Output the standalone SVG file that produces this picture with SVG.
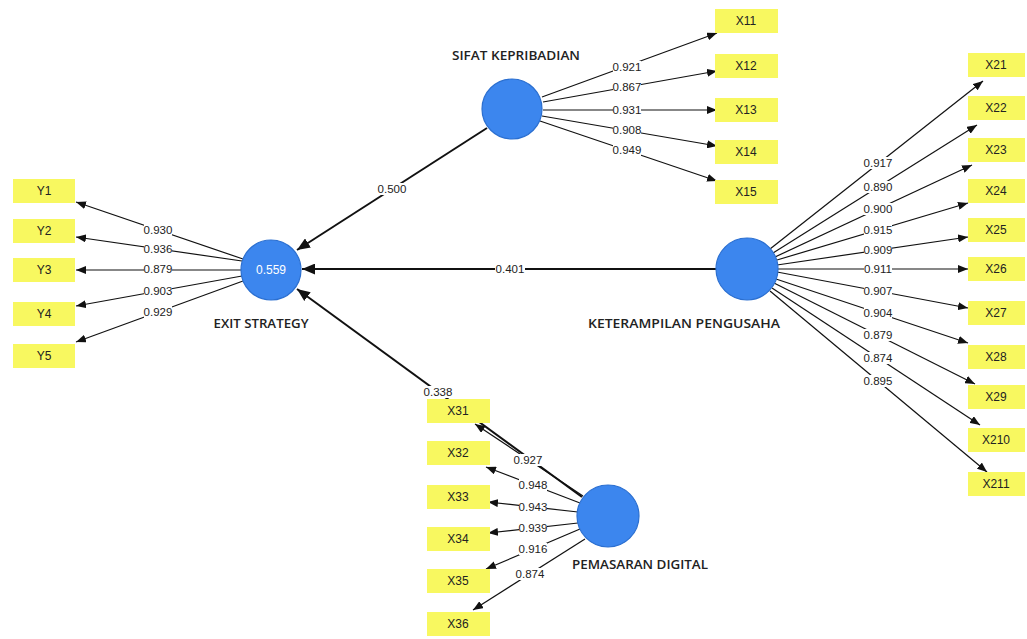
<svg xmlns="http://www.w3.org/2000/svg" width="1027" height="639" viewBox="0 0 1027 639">
<style>
.ld{stroke:#111;stroke-width:1.2;fill:none;marker-end:url(#ah)}
.st{stroke:#111;stroke-width:2;fill:none;marker-end:url(#ahb)}
.lb{font-family:"Liberation Sans",Arial,sans-serif;font-size:11.5px;fill:#222;text-anchor:middle}
.bg{fill:#fff}
.box{fill:#f8f860}
.bt{font-family:"Liberation Sans",Arial,sans-serif;font-size:12px;fill:#222;text-anchor:middle}
.lv{fill:#3c86ee;stroke:#2b6fd0;stroke-width:1.2}
.tt{font-family:"Open Sans","Liberation Sans",sans-serif;font-size:12.5px;font-weight:600;fill:#222;text-anchor:middle}
</style>
<defs>
<marker id="ah" viewBox="0 0 10 8" refX="10" refY="4" markerWidth="10" markerHeight="8" markerUnits="userSpaceOnUse" orient="auto"><path d="M0,0 L10,4 L0,8 z" fill="#111"/></marker>
<marker id="ahb" viewBox="0 0 12 10" refX="12" refY="5" markerWidth="13" markerHeight="11" markerUnits="userSpaceOnUse" orient="auto"><path d="M0,0 L12,5 L0,10 z" fill="#111"/></marker>
</defs>
<rect width="1027" height="639" fill="#fff"/>
<g id="connectors">
<path class="st" d="M487,128 L297,250"/>
<path class="st" d="M716,269 L302,269"/>
<path class="st" d="M582,497 L297,289"/>
<path class="ld" d="M542,97 L717,33"/>
<path class="ld" d="M543,102 L717,71"/>
<path class="ld" d="M543,110 L717,110"/>
<path class="ld" d="M542,116 L717,146"/>
<path class="ld" d="M540,121 L717,181"/>
<path class="ld" d="M770,249 L983,81"/>
<path class="ld" d="M773,253 L977,125"/>
<path class="ld" d="M775,257 L972,165"/>
<path class="ld" d="M777,260 L968,203"/>
<path class="ld" d="M777,265 L968,237"/>
<path class="ld" d="M778,269 L968,269"/>
<path class="ld" d="M777,272 L968,308"/>
<path class="ld" d="M776,279 L968,343"/>
<path class="ld" d="M774,283 L975,384"/>
<path class="ld" d="M772,288 L980,425"/>
<path class="ld" d="M770,291 L987,472"/>
<path class="ld" d="M243,259 L76,202"/>
<path class="ld" d="M242,261 L76,237"/>
<path class="ld" d="M241,270 L76,270"/>
<path class="ld" d="M242,276 L76,306"/>
<path class="ld" d="M243,281 L76,342"/>
<path class="ld" d="M583,496 L475,424"/>
<path class="ld" d="M580,503 L486,467"/>
<path class="ld" d="M578,512 L488,502"/>
<path class="ld" d="M578,523 L488,533"/>
<path class="ld" d="M580,529 L486,569"/>
<path class="ld" d="M585,539 L473,610"/>
<g id="labels">
<rect class="bg" x="377" y="183" width="30" height="12"/><text class="lb" x="392" y="193">0.500</text>
<rect class="bg" x="495" y="263" width="30" height="12"/><text class="lb" x="510" y="273">0.401</text>
<rect class="bg" x="423" y="386" width="30" height="12"/><text class="lb" x="438" y="396">0.338</text>
<rect class="bg" x="613" y="61" width="28" height="12"/><text class="lb" x="627" y="71">0.921</text>
<rect class="bg" x="613" y="81" width="28" height="12"/><text class="lb" x="627" y="91">0.867</text>
<rect class="bg" x="613" y="104" width="28" height="12"/><text class="lb" x="627" y="114">0.931</text>
<rect class="bg" x="613" y="124" width="28" height="12"/><text class="lb" x="627" y="134">0.908</text>
<rect class="bg" x="613" y="144" width="28" height="12"/><text class="lb" x="627" y="154">0.949</text>
<rect class="bg" x="864" y="157" width="28" height="12"/><text class="lb" x="878" y="167">0.917</text>
<rect class="bg" x="864" y="181" width="28" height="12"/><text class="lb" x="878" y="191">0.890</text>
<rect class="bg" x="864" y="203" width="28" height="12"/><text class="lb" x="878" y="213">0.900</text>
<rect class="bg" x="864" y="224" width="28" height="12"/><text class="lb" x="878" y="234">0.915</text>
<rect class="bg" x="864" y="244" width="28" height="12"/><text class="lb" x="878" y="254">0.909</text>
<rect class="bg" x="864" y="263" width="28" height="12"/><text class="lb" x="878" y="273">0.911</text>
<rect class="bg" x="864" y="285" width="28" height="12"/><text class="lb" x="878" y="295">0.907</text>
<rect class="bg" x="864" y="307" width="28" height="12"/><text class="lb" x="878" y="317">0.904</text>
<rect class="bg" x="864" y="329" width="28" height="12"/><text class="lb" x="878" y="339">0.879</text>
<rect class="bg" x="864" y="352" width="28" height="12"/><text class="lb" x="878" y="362">0.874</text>
<rect class="bg" x="864" y="375" width="28" height="12"/><text class="lb" x="878" y="385">0.895</text>
<rect class="bg" x="144" y="224" width="28" height="12"/><text class="lb" x="158" y="234">0.930</text>
<rect class="bg" x="144" y="243" width="28" height="12"/><text class="lb" x="158" y="253">0.936</text>
<rect class="bg" x="144" y="263" width="28" height="12"/><text class="lb" x="158" y="273">0.879</text>
<rect class="bg" x="144" y="285" width="28" height="12"/><text class="lb" x="158" y="295">0.903</text>
<rect class="bg" x="144" y="306" width="28" height="12"/><text class="lb" x="158" y="316">0.929</text>
<rect class="bg" x="514" y="454" width="28" height="12"/><text class="lb" x="528" y="464">0.927</text>
<rect class="bg" x="519" y="479" width="28" height="12"/><text class="lb" x="533" y="489">0.948</text>
<rect class="bg" x="519" y="501" width="28" height="12"/><text class="lb" x="533" y="511">0.943</text>
<rect class="bg" x="519" y="522" width="28" height="12"/><text class="lb" x="533" y="532">0.939</text>
<rect class="bg" x="519" y="543" width="28" height="12"/><text class="lb" x="533" y="553">0.916</text>
<rect class="bg" x="516" y="568" width="28" height="12"/><text class="lb" x="530" y="578">0.874</text>
</g>
</g>
<g id="SIFAT_KEPRIBADIAN"><circle class="lv" cx="512" cy="109" r="30"/><text class="tt" x="516" y="60" textLength="128" lengthAdjust="spacingAndGlyphs">SIFAT KEPRIBADIAN</text></g>
<g id="EXIT_STRATEGY"><circle class="lv" cx="271" cy="270" r="30"/><text x="271" y="274" style="font-family:'Liberation Sans',Arial,sans-serif;font-size:12px;fill:#fff;text-anchor:middle">0.559</text><text class="tt" x="261" y="328" textLength="95" lengthAdjust="spacingAndGlyphs">EXIT STRATEGY</text></g>
<g id="KETERAMPILAN_PENGUSAHA"><circle class="lv" cx="747" cy="269" r="31"/><text class="tt" x="684" y="328" textLength="192" lengthAdjust="spacingAndGlyphs">KETERAMPILAN PENGUSAHA</text></g>
<g id="PEMASARAN_DIGITAL"><circle class="lv" cx="608" cy="516" r="31"/><text class="tt" x="640" y="569" textLength="136" lengthAdjust="spacingAndGlyphs">PEMASARAN DIGITAL</text></g>
<g id="X11"><rect class="box" x="715" y="9" width="63" height="24"/><text class="bt" x="746" y="25">X11</text></g>
<g id="X12"><rect class="box" x="715" y="54" width="63" height="24"/><text class="bt" x="746" y="70">X12</text></g>
<g id="X13"><rect class="box" x="715" y="98" width="63" height="24"/><text class="bt" x="746" y="114">X13</text></g>
<g id="X14"><rect class="box" x="715" y="140" width="63" height="24"/><text class="bt" x="746" y="156">X14</text></g>
<g id="X15"><rect class="box" x="715" y="180" width="63" height="24"/><text class="bt" x="746" y="196">X15</text></g>
<g id="Y1"><rect class="box" x="13" y="179" width="62" height="24"/><text class="bt" x="44" y="195">Y1</text></g>
<g id="Y2"><rect class="box" x="13" y="219" width="62" height="24"/><text class="bt" x="44" y="235">Y2</text></g>
<g id="Y3"><rect class="box" x="13" y="258" width="62" height="24"/><text class="bt" x="44" y="274">Y3</text></g>
<g id="Y4"><rect class="box" x="13" y="302" width="62" height="24"/><text class="bt" x="44" y="318">Y4</text></g>
<g id="Y5"><rect class="box" x="13" y="344" width="62" height="24"/><text class="bt" x="44" y="360">Y5</text></g>
<g id="X21"><rect class="box" x="968" y="53" width="57" height="24"/><text class="bt" x="996" y="69">X21</text></g>
<g id="X22"><rect class="box" x="968" y="96" width="57" height="24"/><text class="bt" x="996" y="112">X22</text></g>
<g id="X23"><rect class="box" x="968" y="138" width="57" height="24"/><text class="bt" x="996" y="154">X23</text></g>
<g id="X24"><rect class="box" x="968" y="179" width="57" height="24"/><text class="bt" x="996" y="195">X24</text></g>
<g id="X25"><rect class="box" x="968" y="218" width="57" height="24"/><text class="bt" x="996" y="234">X25</text></g>
<g id="X26"><rect class="box" x="968" y="257" width="57" height="24"/><text class="bt" x="996" y="273">X26</text></g>
<g id="X27"><rect class="box" x="968" y="301" width="57" height="24"/><text class="bt" x="996" y="317">X27</text></g>
<g id="X28"><rect class="box" x="968" y="345" width="57" height="24"/><text class="bt" x="996" y="361">X28</text></g>
<g id="X29"><rect class="box" x="968" y="385" width="57" height="24"/><text class="bt" x="996" y="401">X29</text></g>
<g id="X210"><rect class="box" x="968" y="428" width="57" height="24"/><text class="bt" x="996" y="444">X210</text></g>
<g id="X211"><rect class="box" x="968" y="472" width="57" height="24"/><text class="bt" x="996" y="488">X211</text></g>
<g id="X31"><rect class="box" x="427" y="399" width="63" height="24"/><text class="bt" x="458" y="415">X31</text></g>
<g id="X32"><rect class="box" x="427" y="441" width="63" height="24"/><text class="bt" x="458" y="457">X32</text></g>
<g id="X33"><rect class="box" x="427" y="485" width="63" height="24"/><text class="bt" x="458" y="501">X33</text></g>
<g id="X34"><rect class="box" x="427" y="527" width="63" height="24"/><text class="bt" x="458" y="543">X34</text></g>
<g id="X35"><rect class="box" x="427" y="569" width="63" height="24"/><text class="bt" x="458" y="585">X35</text></g>
<g id="X36"><rect class="box" x="427" y="612" width="63" height="24"/><text class="bt" x="458" y="628">X36</text></g>
</svg>
